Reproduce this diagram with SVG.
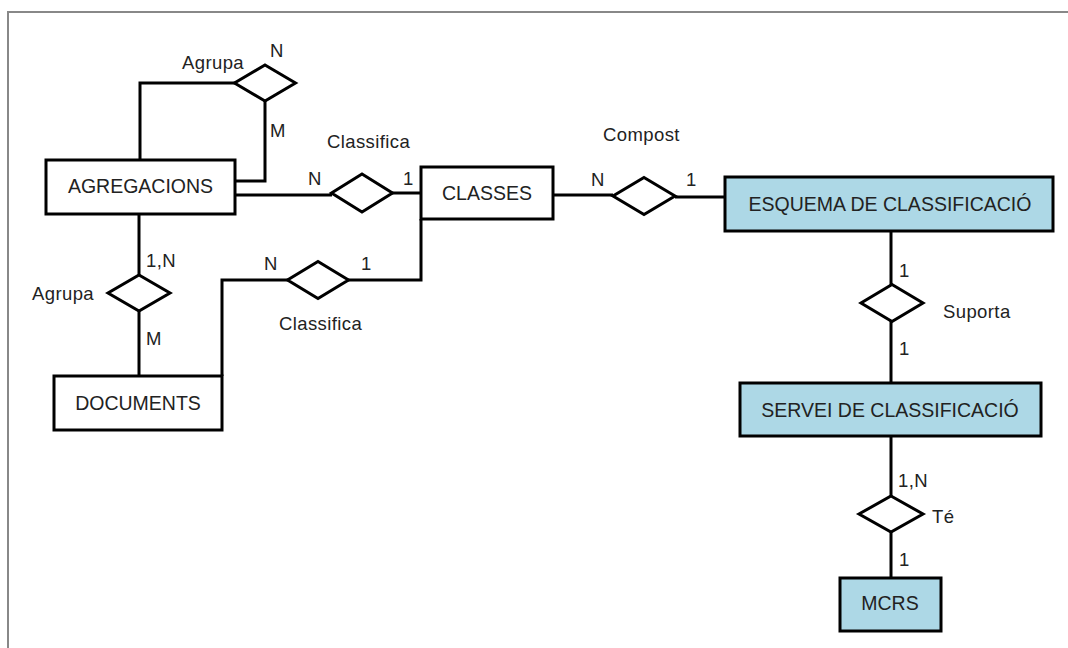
<svg xmlns="http://www.w3.org/2000/svg" width="1068" height="648" viewBox="0 0 1068 648">
<style>
  .ent{fill:#ffffff;stroke:#000;stroke-width:3}
  .blue{fill:#add8e6}
  .rel{fill:#ffffff;stroke:#000;stroke-width:3;stroke-linejoin:miter}
  .con{fill:none;stroke:#000;stroke-width:3}
  .et{font-family:"Liberation Sans",Arial,sans-serif;font-size:19.5px;fill:#222;text-anchor:middle}
  .lb{font-family:"Liberation Sans",Arial,sans-serif;font-size:18.5px;letter-spacing:0.4px;fill:#222}
</style>
<rect width="1068" height="648" fill="#fff"/>
<path d="M8,648 V12 H1068" fill="none" stroke="#888" stroke-width="2"/>

<g id="connectors">
  <path class="con" d="M140,160 V83 H235"/>
  <path class="con" d="M265,101 V181 H235"/>
  <path class="con" d="M235,195 H332"/>
  <path class="con" d="M392,193 H421"/>
  <path class="con" d="M139,214 V275"/>
  <path class="con" d="M139,311 V376"/>
  <path class="con" d="M222,376 V280 H288"/>
  <path class="con" d="M348,280 H421 V219"/>
  <path class="con" d="M553,195 H613"/>
  <path class="con" d="M675,197 H725"/>
  <path class="con" d="M891,231 V285"/>
  <path class="con" d="M891,321 V383"/>
  <path class="con" d="M891,436 V496"/>
  <path class="con" d="M891,532 V578"/>
</g>

<g id="agregacions">
  <rect class="ent" x="46" y="160" width="189" height="54"/>
  <text class="et" x="140.5" y="193">AGREGACIONS</text>
</g>
<g id="classes">
  <rect class="ent" x="421" y="167" width="132" height="52"/>
  <text class="et" x="487" y="200">CLASSES</text>
</g>
<g id="documents">
  <rect class="ent" x="54" y="376" width="168" height="54"/>
  <text class="et" x="138" y="410">DOCUMENTS</text>
</g>
<g id="esquema">
  <rect class="ent blue" x="725" y="177" width="328" height="54"/>
  <text class="et" x="890" y="211">ESQUEMA DE CLASSIFICACIÓ</text>
</g>
<g id="servei">
  <rect class="ent blue" x="740" y="383" width="301" height="53"/>
  <text class="et" x="890" y="417">SERVEI DE CLASSIFICACIÓ</text>
</g>
<g id="mcrs">
  <rect class="ent blue" x="840" y="578" width="101" height="53"/>
  <text class="et" x="890" y="610">MCRS</text>
</g>

<g id="rel-agrupa-top">
  <polygon class="rel" points="265,65 295.5,83 265,101 234.5,83"/>
  <text class="lb" x="182" y="69">Agrupa</text>
  <text class="lb" x="270" y="57">N</text>
  <text class="lb" x="270" y="137">M</text>
</g>
<g id="rel-classifica-top">
  <polygon class="rel" points="362,174 392.5,193 362,212 331.5,193"/>
  <text class="lb" x="327" y="148">Classifica</text>
  <text class="lb" x="308" y="185">N</text>
  <text class="lb" x="403" y="185">1</text>
</g>
<g id="rel-agrupa-left">
  <polygon class="rel" points="139,275 170,293 139,311 108,293"/>
  <text class="lb" x="32" y="300">Agrupa</text>
  <text class="lb" x="146" y="267">1,N</text>
  <text class="lb" x="146" y="345">M</text>
</g>
<g id="rel-classifica-bottom">
  <polygon class="rel" points="318,261.5 348.5,280 318,298.5 287.5,280"/>
  <text class="lb" x="279" y="330">Classifica</text>
  <text class="lb" x="264" y="270">N</text>
  <text class="lb" x="361" y="270">1</text>
</g>
<g id="rel-compost">
  <polygon class="rel" points="644,177.5 675,196 644,214.5 613,196"/>
  <text class="lb" x="603" y="141">Compost</text>
  <text class="lb" x="591" y="186">N</text>
  <text class="lb" x="686" y="186">1</text>
</g>
<g id="rel-suporta">
  <polygon class="rel" points="892,284.5 923,303 892,321.5 861,303"/>
  <text class="lb" x="943" y="318">Suporta</text>
  <text class="lb" x="899" y="277">1</text>
  <text class="lb" x="899" y="355">1</text>
</g>
<g id="rel-te">
  <polygon class="rel" points="891,496 923,514 891,532 859,514"/>
  <text class="lb" x="932" y="523">Té</text>
  <text class="lb" x="898" y="487">1,N</text>
  <text class="lb" x="899" y="566">1</text>
</g>
</svg>
